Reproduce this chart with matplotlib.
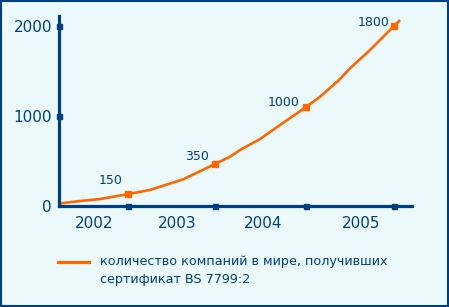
import matplotlib
matplotlib.use("Agg")
import matplotlib.pyplot as plt
from matplotlib.lines import Line2D
from matplotlib.patches import Rectangle

# ---- data ----
years = ["2002", "2003", "2004", "2005"]
year_pos = [0.393, 1.326, 2.292, 3.393]
mark_x = [0.775, 1.753, 2.770, 3.767]
mark_y = [133, 467, 1097, 1997]
mark_labels = ["150", "350", "1000", "1800"]
curve_x = [0.022, 0.27, 0.46, 0.779, 1.022, 1.397, 1.753, 1.921, 2.034, 2.258,
           2.483, 2.772, 2.933, 3.146, 3.27, 3.494, 3.719, 3.767, 3.831]
curve_y = [30, 59, 77, 133, 178, 297, 467, 548, 622, 744,
           900, 1097, 1214, 1400, 1530, 1733, 1956, 1997, 2067]
y_ticks = [0, 1000, 2000]
y_ticklabels = ["0", "1000", "2000"]
legend_lines = ["количество компаний в мире, получивших", "сертификат BS 7799:2"]

BG = "#EBF9FA"
BLUE = "#003F7F"
ORANGE = "#FF6600"

W, H = 449, 307
fig = plt.figure(figsize=(W / 100, H / 100), dpi=100)
fig.patch.set_facecolor(BG)

def px(x, y):
    return x / W, 1 - y / H

l, t = px(59, 16)
r, b = px(412, 206)
ax = fig.add_axes([l, b, r - l, t - b])
ax.set_facecolor("none")
ax.set_xlim(0, 3.966)
ax.set_ylim(0, 2111)

for s in ["top", "right"]:
    ax.spines[s].set_visible(False)
for s in ["left", "bottom"]:
    ax.spines[s].set_color(BLUE)
    ax.spines[s].set_linewidth(2.3)

ax.set_xticks(year_pos)
ax.set_xticklabels(years)
ax.set_yticks(y_ticks)
ax.set_yticklabels(y_ticklabels)
ax.tick_params(axis="x", length=0, pad=7, labelsize=11, labelcolor=BLUE)
ax.tick_params(axis="y", length=0, pad=5, labelsize=11, labelcolor=BLUE)

# axis tick squares
ax.plot(mark_x, [0] * len(mark_x), ls="none", marker="s", ms=3.6,
        color=BLUE, clip_on=False, zorder=5)
ax.plot([0] * 2, y_ticks[1:], ls="none", marker="s", ms=3.6,
        color=BLUE, clip_on=False, zorder=5)

# curve
ax.plot(curve_x, curve_y, color=ORANGE, lw=1.9, solid_capstyle="butt",
        solid_joinstyle="round", clip_on=False, zorder=6)
ax.plot(mark_x, mark_y, ls="none", marker="s", ms=5, color=ORANGE,
        clip_on=False, zorder=7)

offsets = [(-17, 14), (-18, 7), (-22, 5), (-21, 4)]
for xv, yv, lab, (dx, dy) in zip(mark_x, mark_y, mark_labels, offsets):
    ax.annotate(lab, (xv, yv), xytext=(dx, dy), textcoords="offset pixels",
                ha="center", va="center", fontsize=9, color=BLUE)

# legend
x0, y0 = px(58, 261.7)
x1, _ = px(89, 261.7)
fig.add_artist(Line2D([x0, x1], [y0, y0], color=ORANGE, lw=2.3,
                      transform=fig.transFigure))
for i, txt in enumerate(legend_lines):
    tx, ty = px(100, 261.7 + 17.6 * i)
    fig.text(tx, ty, txt, ha="left", va="center", fontsize=9.2, color=BLUE)

# border
fig.add_artist(Rectangle((1 / W, 1 / H), 1 - 2 / W, 1 - 2 / H, fill=False,
                         edgecolor=BLUE, lw=1.5, transform=fig.transFigure))

fig.savefig("out.png", dpi=100, facecolor=BG)
